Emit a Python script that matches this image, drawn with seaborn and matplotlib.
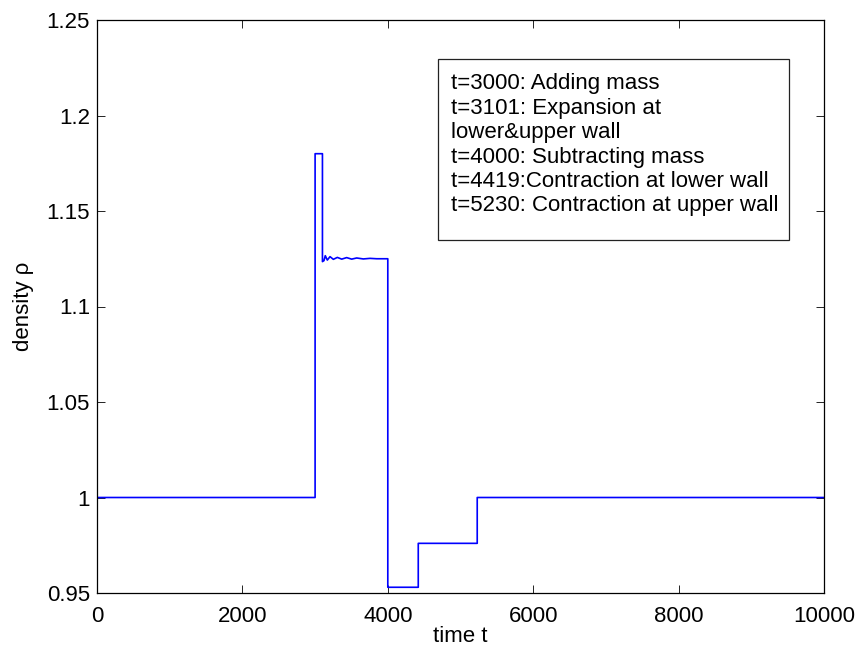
import matplotlib
matplotlib.use("Agg")
import matplotlib.pyplot as plt
from matplotlib.patches import Rectangle
import numpy as np
import pandas as pd
import seaborn as sns

# Density history: piecewise levels between the events
event_times = [0, 3000, 3101, 4000, 4419, 5230, 10000]
spike_level = 1.18
base_level = 1.0
low_level = 0.953
mid_level = 0.976

# Damped ripple after the wall expansion (t, rho)
ripple_t = [3101, 3122, 3140, 3168, 3205, 3251, 3306, 3366, 3434, 3503,
            3572, 3663, 3755, 3847, 4000]
ripple_rho = [1.1235, 1.1240, 1.1266, 1.1243, 1.1261, 1.1247, 1.1257, 1.1248,
              1.1256, 1.1248, 1.1254, 1.1249, 1.1252, 1.1250, 1.1250]

legend_lines = [
    "t=3000: Adding mass",
    "t=3101: Expansion at",
    "lower&upper wall",
    "t=4000: Subtracting mass",
    "t=4419:Contraction at lower wall",
    "t=5230: Contraction at upper wall",
]

y_ticks = [0.95, 1.0, 1.05, 1.1, 1.15, 1.2, 1.25]
y_tick_labels = ["0.95", "1", "1.05", "1.1", "1.15", "1.2", "1.25"]
x_ticks = [0, 2000, 4000, 6000, 8000, 10000]

# Assemble the path of the signal
t0, t_add, t_exp, t_sub, t_low, t_up, t_end = event_times
times = ([t0, t_add, t_add, t_exp] + ripple_t +
         [t_sub, t_low, t_low, t_up, t_up, t_end])
values = ([base_level, base_level, spike_level, spike_level] + ripple_rho +
          [low_level, low_level, mid_level, mid_level, base_level, base_level])
df = pd.DataFrame({"time t": times, "density": values, "order": range(len(times))})

sns.set_theme(style="ticks")
plt.rcParams["font.family"] = ["Liberation Sans", "DejaVu Sans"]
plt.rcParams["text.color"] = "black"
plt.rcParams["axes.labelcolor"] = "black"

FS = 16

fig = plt.figure(figsize=(8.6, 6.52), dpi=100)
ax = fig.add_axes([97 / 860, 1 - 593 / 652, 727 / 860, 573 / 652])

sns.lineplot(data=df, x="time t", y="density", sort=False, estimator=None,
             color="#0000ff", linewidth=1.2, ax=ax)

ax.set_xlim(0, 10000)
ax.set_ylim(0.95, 1.25)
ax.set_xticks(x_ticks)
ax.set_xticklabels([str(v) for v in x_ticks])
ax.set_yticks(y_ticks)
ax.set_yticklabels(y_tick_labels)

ax.tick_params(direction="in", length=6, width=0.6, top=True, right=True,
               labelsize=FS, colors="black")
ax.tick_params(axis="x", pad=9)
ax.tick_params(axis="y", pad=5)
for side in ax.spines.values():
    side.set_visible(True)
    side.set_linewidth(0.9)
    side.set_color("black")

ax.set_xlabel("time t", fontsize=FS, color="black")
ax.set_ylabel("density ρ", fontsize=FS, color="black")
ax.xaxis.set_label_coords(0.5, -0.057)
ax.yaxis.set_label_coords(-0.087, 0.5)

# Annotation box listing the events
box_x0 = (438 - 97) / 727
box_x1 = (789 - 97) / 727
box_y0 = (593 - 240) / 573
box_y1 = (593 - 59) / 573
ax.add_patch(Rectangle((box_x0, box_y0), box_x1 - box_x0, box_y1 - box_y0,
                       transform=ax.transAxes, facecolor="white",
                       edgecolor="#222222", linewidth=0.9, zorder=3))
text_x = (451 - 97) / 727
for i, line in enumerate(legend_lines):
    y_px = 84 + i * 24.4
    ax.text(text_x, (593 - y_px) / 573, line, transform=ax.transAxes,
            ha="left", va="center", fontsize=FS, color="black", zorder=4)

fig.savefig("out.png", dpi=100, facecolor="white")
